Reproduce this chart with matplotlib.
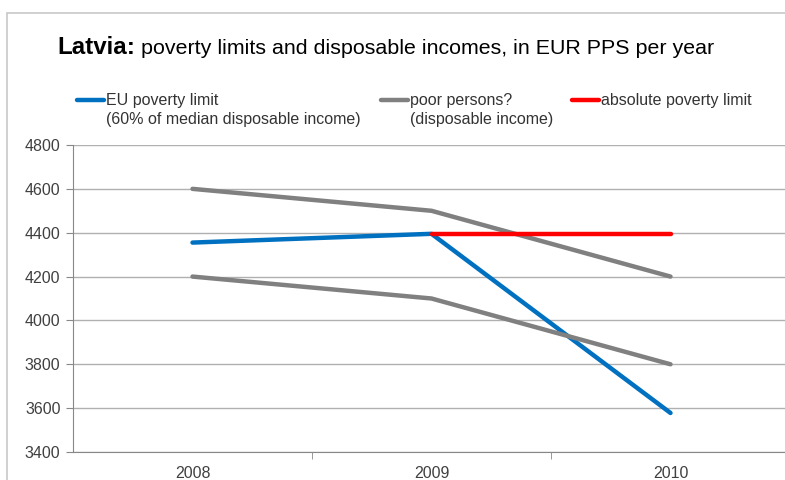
import matplotlib
matplotlib.use("Agg")
import matplotlib.pyplot as plt
from matplotlib.patches import Rectangle
import numpy as np

plt.rcParams['font.family'] = ['Liberation Sans', 'DejaVu Sans']

years = ["2008", "2009", "2010"]
eu_limit = [4355, 4395, 3578]
poor_upper = [4600, 4500, 4200]
poor_lower = [4200, 4100, 3800]
absolute_limit = [np.nan, 4395, 4395]

blue = "#0070C0"
grey = "#808080"
red = "#FF0000"

fig = plt.figure(figsize=(7.85, 4.8), dpi=100)
# outer chart border (cropped on the right and bottom)
fig.patches.append(Rectangle((7 / 785, -0.2), 1.2, 1 - 13 / 480 + 0.2,
                             transform=fig.transFigure, fill=False,
                             edgecolor="#c8c8c8", linewidth=1.2))

ax = fig.add_axes([73 / 785, 28 / 480, 1 - 73 / 785, (452 - 145) / 480])
x = np.arange(len(years))
ax.plot(x, eu_limit, color=blue, lw=3.2, solid_capstyle="round", zorder=3)
ax.plot(x, poor_upper, color=grey, lw=3.2, solid_capstyle="round", zorder=3)
ax.plot(x, poor_lower, color=grey, lw=3.2, solid_capstyle="round", zorder=3)
ax.plot(x, absolute_limit, color=red, lw=3.2, solid_capstyle="round", zorder=4)

ax.set_ylim(3400, 4800)
ax.set_yticks(np.arange(3400, 4801, 200))
ax.set_xlim(-0.5, (785 - 73) / 239 - 0.5)
ax.set_xticks(x)
ax.set_xticklabels(years)
ax.set_xticks(x[:-1] + 0.5, minor=True)
ax.tick_params(axis="x", which="major", length=0, pad=10, labelsize=11.5, labelcolor="#404040")
ax.tick_params(axis="x", which="minor", length=5, color="#888888", direction="out")
ax.tick_params(axis="y", length=5, color="#888888", labelsize=11.5, labelcolor="#404040", pad=4)
ax.grid(axis="y", color="#b0b0b0", lw=1)
ax.set_axisbelow(True)
for s in ["top", "right"]:
    ax.spines[s].set_visible(False)
for s in ["left", "bottom"]:
    ax.spines[s].set_color("#888888")

# title
t1 = fig.text(57 / 785, 1 - 54 / 480, "Latvia:", fontsize=17.4, fontweight="bold")
fig.canvas.draw()
bb = t1.get_window_extent()
fig.text(bb.x1 / 785 + 6 / 785, 1 - 54 / 480,
         "poverty limits and disposable incomes, in EUR PPS per year", fontsize=15.4)

# legend
legend_items = [
    (77, blue, "EU poverty limit\n(60% of median disposable income)"),
    (381, grey, "poor persons?\n(disposable income)"),
    (572, red, "absolute poverty limit"),
]
for lx, col, label in legend_items:
    fig.add_artist(plt.Line2D([lx / 785, (lx + 27) / 785], [1 - 100 / 480] * 2,
                              color=col, lw=3.2, solid_capstyle="round",
                              transform=fig.transFigure))
    fig.text((lx + 29) / 785, 1 - 93 / 480, label, fontsize=11.5, va="top",
             color="#333333", linespacing=1.3)

fig.savefig("out.png", dpi=100)
